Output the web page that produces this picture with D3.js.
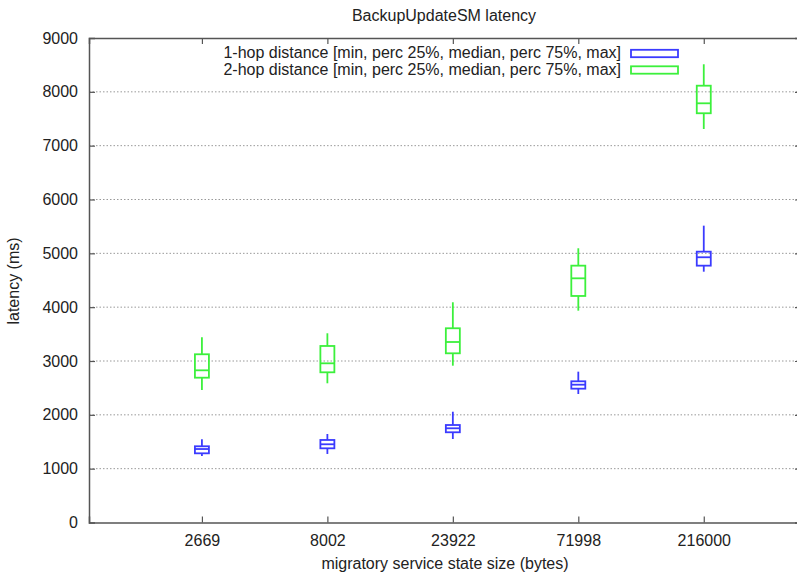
<!DOCTYPE html>
<html><head><meta charset="utf-8">
<script src="https://cdn.jsdelivr.net/npm/d3@7"></script>
<style>
body{margin:0;background:#fff;}
text{font-family:"Liberation Sans",Arial,sans-serif;fill:#222;}
</style></head>
<body><svg id="c" width="797" height="572"></svg>
<script>
const categories = ["2669","8002","23922","71998","216000"];
const yTicks = [0,1000,2000,3000,4000,5000,6000,7000,8000,9000];
// [min, q25, median, q75, max]
const hop1 = [
  [1235,1285,1365,1416,1546],
  [1273,1378,1453,1533,1644],
  [1551,1676,1750,1811,2058],
  [2387,2486,2560,2623,2802],
  [4659,4771,4927,5031,5514]
];
const hop2 = [
  [2461,2690,2827,3125,3440],
  [2586,2790,2957,3279,3515],
  [2913,3143,3353,3608,4091],
  [3935,4208,4536,4771,5094],
  [7310,7602,7787,8114,8512]
];
const seriesNames = [
  "1-hop distance [min, perc 25%, median, perc 75%, max]",
  "2-hop distance [min, perc 25%, median, perc 75%, max]"
];
const colors = ["#3b3bff","#3cf03c"];

const svg = d3.select("#c");
const L=89, R=801, T=38, B=522.5;
const x = d3.scaleLinear().domain([-0.9, 4.775]).range([L,R]);
const y = d3.scaleLinear().domain([0,9000]).range([B,T]);
const fs = 16;

// grid
svg.append("g").selectAll("line").data(yTicks.filter(d=>d>0&&d<9000)).join("line")
  .attr("x1",L).attr("x2",R).attr("y1",d=>y(d)).attr("y2",d=>y(d))
  .attr("stroke","#999").attr("stroke-width",1).attr("stroke-dasharray","1.5,2");

// axes
const axL = svg.append("g").attr("transform",`translate(${L},0)`)
  .call(d3.axisLeft(y).tickValues(yTicks).tickSize(-6).tickPadding(11).tickFormat(d3.format("d")));
const axR = svg.append("g").attr("transform",`translate(${R},0)`)
  .call(d3.axisRight(y).tickValues(yTicks).tickSize(-6).tickFormat(""));
const axB = svg.append("g").attr("transform",`translate(0,${B})`)
  .call(d3.axisBottom(x).tickValues(d3.range(categories.length)).tickSize(-6).tickPadding(14).tickFormat(i=>categories[i]));
const axT = svg.append("g").attr("transform",`translate(0,${T})`)
  .call(d3.axisTop(x).tickValues(d3.range(categories.length)).tickSize(-6).tickFormat(""));
[axL,axR,axB,axT].forEach(a=>{
  a.select(".domain").attr("stroke","#555").attr("stroke-width",1.5);
  a.selectAll(".tick line").attr("stroke","#555").attr("stroke-width",1.2);
  a.selectAll("text").attr("font-size",fs).attr("fill","#222").attr("font-family","Liberation Sans, Arial, sans-serif");
});
axL.selectAll(".tick line").filter(d=>d===0||d===9000).remove();
axR.selectAll(".tick line").filter(d=>d===0||d===9000).remove();
axB.selectAll("text").attr("dy","0.62em");

// boxes
const bw = 14;
function drawBoxes(data, color){
  const g = svg.append("g").attr("stroke",color).attr("stroke-width",1.8).attr("fill","none");
  data.forEach((d,i)=>{
    const cx = x(i);
    g.append("line").attr("x1",cx).attr("x2",cx).attr("y1",y(d[4])).attr("y2",y(d[3]));
    g.append("line").attr("x1",cx).attr("x2",cx).attr("y1",y(d[1])).attr("y2",y(d[0]));
    g.append("rect").attr("x",cx-bw/2).attr("width",bw).attr("y",y(d[3])).attr("height",y(d[1])-y(d[3]));
    g.append("line").attr("x1",cx-bw/2).attr("x2",cx+bw/2).attr("y1",y(d[2])).attr("y2",y(d[2]));
  });
}
drawBoxes(hop2, colors[1]);
drawBoxes(hop1, colors[0]);

// legend
seriesNames.forEach((n,i)=>{
  const ly = 53.5 + i*16.5;
  svg.append("text").attr("x",621).attr("y",ly).attr("dy","0.3em").attr("text-anchor","end").attr("font-size",fs).text(n);
  svg.append("rect").attr("x",631).attr("y",ly-3.7).attr("width",47).attr("height",7.4)
    .attr("fill","none").attr("stroke",colors[i]).attr("stroke-width",1.8);
});

// titles
svg.append("text").attr("x",444).attr("y",15).attr("dy","0.35em").attr("text-anchor","middle").attr("font-size",fs).text("BackupUpdateSM latency");
svg.append("text").attr("x",445).attr("y",563).attr("dy","0.35em").attr("text-anchor","middle").attr("font-size",fs).text("migratory service state size (bytes)");
svg.append("text").attr("transform","translate(13,281) rotate(-90)").attr("dy","0.35em").attr("text-anchor","middle").attr("font-size",fs).text("latency (ms)");
</script></body></html>
